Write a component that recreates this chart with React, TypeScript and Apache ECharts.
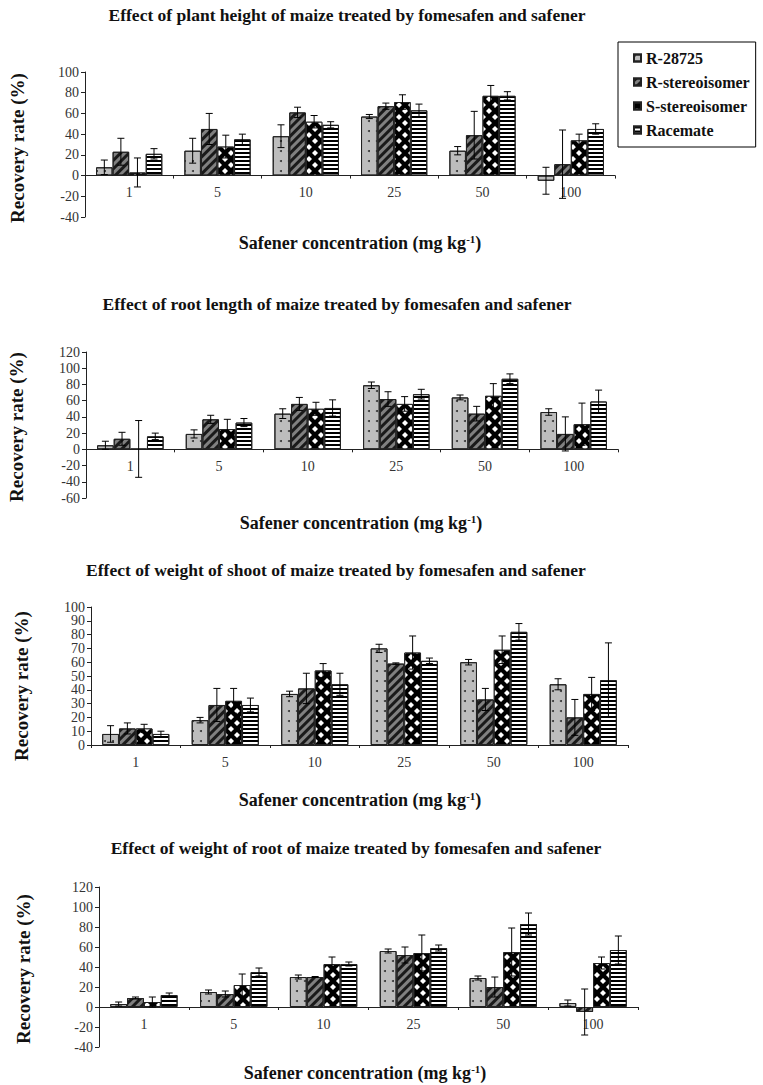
import React, { useEffect, useRef } from 'react';
import * as echarts from 'echarts';

const categories = ['1', '5', '10', '25', '50', '100'];
const seriesNames = ['R-28725', 'R-stereoisomer', 'S-stereoisomer', 'Racemate'];

// Y tick labels per panel (bottom to top)
const yTicks1 = ['-40', '-20', '0', '20', '40', '60', '80', '100'];
const yTicks2 = ['-60', '-40', '-20', '0', '20', '40', '60', '80', '100', '120'];
const yTicks3 = ['0', '10', '20', '30', '40', '50', '60', '70', '80', '90', '100'];
const yTicks4 = ['-40', '-20', '0', '20', '40', '60', '80', '100', '120'];

// Panel 1: plant height
const heightR28725 = [8, 24, 38, 57, 24, -5];
const heightR28725Err = [7, 12, 11, 2, 4, 13];
const heightRStereo = [23, 45, 61, 67, 39, 11];
const heightRStereoErr = [13, 15, 5, 3, 23, 33];
const heightSStereo = [3, 28, 52, 71, 77, 34];
const heightSStereoErr = [14, 11, 6, 7, 10, 6];
const heightRacemate = [21, 35, 49, 63, 77, 45];
const heightRacemateErr = [5, 5, 3, 6, 4, 5];

// Panel 2: root length
const rootLenR28725 = [5, 19, 44, 79, 64, 46];
const rootLenR28725Err = [5, 5, 6, 4, 3, 4];
const rootLenRStereo = [13, 37, 56, 62, 44, 19];
const rootLenRStereoErr = [8, 5, 8, 9, 9, 21];
const rootLenSStereo = [0.5, 25, 50, 56, 66, 31];
const rootLenSStereoErr = [35, 12, 8, 9, 15, 26];
const rootLenRacemate = [16, 33, 51, 68, 87, 59];
const rootLenRacemateErr = [4, 5, 10, 6, 6, 14];

// Panel 3: weight of shoot
const shootR28725 = [8, 18, 37, 70, 60, 44];
const shootR28725Err = [6, 2, 2, 3, 2, 4];
const shootRStereo = [12, 29, 41, 59, 33, 20];
const shootRStereoErr = [4, 12, 11, 0.5, 8, 13];
const shootSStereo = [12, 32, 54, 67, 69, 37];
const shootSStereoErr = [3, 9, 5, 12, 10, 12];
const shootRacemate = [8, 29, 44, 61, 82, 47];
const shootRacemateErr = [2, 5, 8, 2, 6, 27];

// Panel 4: weight of root
const rootWR28725 = [3, 15, 30, 56, 29, 4];
const rootWR28725Err = [2, 2, 2, 2, 2, 3];
const rootWRStereo = [9, 13, 30, 52, 20, -5];
const rootWRStereoErr = [1, 3, 0.5, 8, 10, 23];
const rootWSStereo = [5, 22, 43, 54, 55, 44];
const rootWSStereoErr = [5, 11, 7, 18, 24, 6];
const rootWRacemate = [12, 35, 43, 59, 83, 57];
const rootWRacemateErr = [2, 4, 2, 3, 11, 14];

const titles = [
  'Effect of plant height of maize treated by fomesafen and safener',
  'Effect of root length of maize treated by fomesafen and safener',
  'Effect of weight of shoot of maize treated by fomesafen and safener',
  'Effect of weight of root of maize treated by fomesafen and safener',
];
const yMins = [-40, -60, 0, -40];
const yMaxs = [100, 120, 100, 120];
const yIntervals = [20, 20, 10, 20];
const yTickLabels = [yTicks1, yTicks2, yTicks3, yTicks4];

const FONT = "'Liberation Serif', 'Times New Roman', serif";

const panels = [
  { vals: [heightR28725, heightRStereo, heightSStereo, heightRacemate], errs: [heightR28725Err, heightRStereoErr, heightSStereoErr, heightRacemateErr] },
  { vals: [rootLenR28725, rootLenRStereo, rootLenSStereo, rootLenRacemate], errs: [rootLenR28725Err, rootLenRStereoErr, rootLenSStereoErr, rootLenRacemateErr] },
  { vals: [shootR28725, shootRStereo, shootSStereo, shootRacemate], errs: [shootR28725Err, shootRStereoErr, shootSStereoErr, shootRacemateErr] },
  { vals: [rootWR28725, rootWRStereo, rootWSStereo, rootWRacemate], errs: [rootWR28725Err, rootWRStereoErr, rootWSStereoErr, rootWRacemateErr] },
];

const grids = [
  { left: 85, top: 72, width: 530, height: 145 },
  { left: 86, top: 352, width: 532, height: 146 },
  { left: 91, top: 607, width: 537, height: 138 },
  { left: 99, top: 887, width: 539, height: 160 },
];
const titlePos = [[347, 15], [337, 304], [336, 570], [356, 848]];
const titleSizes = [17.5, 17.5, 17.5, 17.5];
const xNamePos = [[360, 243], [361, 523], [360, 800], [365, 1073]];
const yNamePos = [[17, 148], [16, 427], [21, 686], [23, 969]];

const barStyles: any[] = [
  {
    color: '#bdbdbd', borderColor: '#222', borderWidth: 1,
    decal: { symbol: 'circle', symbolSize: 1, color: '#333', dashArrayX: [1.4, 6], dashArrayY: [1.4, 8] },
  },
  {
    color: '#808080', borderColor: '#222', borderWidth: 1,
    decal: { symbol: 'rect', symbolSize: 1, color: '#1a1a1a', dashArrayX: [1, 0], dashArrayY: [3, 3], rotation: -Math.PI / 4 },
  },
  {
    color: '#000000', borderColor: '#222', borderWidth: 1,
    decal: { symbol: 'diamond', symbolSize: 1, color: '#ffffff', dashArrayX: [[6, 6], [0, 6, 6, 0]], dashArrayY: [6, 0] },
  },
  {
    color: '#ffffff', borderColor: '#222', borderWidth: 1,
    decal: { symbol: 'rect', symbolSize: 1, color: '#000000', dashArrayX: [1, 0], dashArrayY: [2, 2] },
  },
];

const makeErr = (s: number) => (params: any, api: any) => {
  const ci = api.value(0);
  const v = api.value(1);
  const e = api.value(2);
  const c = api.coord([ci, v]);
  const band = api.size([1, 0])[0];
  const bw = (band * 0.75) / 4;
  const x = c[0] - band * 0.375 + (s + 0.5) * bw;
  const yt = api.coord([ci, v + e])[1];
  const yb = api.coord([ci, v - e])[1];
  const cw = 3.5;
  const st = { stroke: '#000', lineWidth: 1 };
  return {
    type: 'group',
    children: [
      { type: 'line', shape: { x1: x, y1: yt, x2: x, y2: yb }, style: st },
      { type: 'line', shape: { x1: x - cw, y1: yt, x2: x + cw, y2: yt }, style: st },
      { type: 'line', shape: { x1: x - cw, y1: yb, x2: x + cw, y2: yb }, style: st },
    ],
  };
};

export default function App() {
  const ref = useRef<HTMLDivElement>(null);
  useEffect(() => {
    document.body.style.margin = '0';
    const chart = echarts.init(ref.current!, null, { renderer: 'svg' });
    const series: any[] = [];
    panels.forEach((p, pi) => {
      p.vals.forEach((vals, s) => {
        series.push({
          name: seriesNames[s],
          type: 'bar',
          xAxisIndex: pi,
          yAxisIndex: pi,
          barGap: '0%',
          barCategoryGap: '25%',
          itemStyle: barStyles[s],
          data: vals,
        });
      });
      p.vals.forEach((vals, s) => {
        series.push({
          name: seriesNames[s] + ' error',
          type: 'custom',
          xAxisIndex: pi,
          yAxisIndex: pi,
          z: 10,
          renderItem: makeErr(s),
          data: vals.map((v, i) => [i, v, p.errs[s][i]]),
        });
      });
    });

    const graphics: any[] = [];
    titles.forEach((t, i) => {
      graphics.push({
        type: 'text', x: titlePos[i][0], y: titlePos[i][1],
        style: { text: t, align: 'center', verticalAlign: 'middle', fontFamily: FONT, fontWeight: 'bold', fontSize: titleSizes[i], fill: '#111' },
      });
      graphics.push({
        type: 'text', x: xNamePos[i][0], y: xNamePos[i][1],
        style: {
          text: '{a|Safener concentration (mg kg}{s|-1}{a|)}',
          align: 'center', verticalAlign: 'middle',
          rich: {
            a: { fontFamily: FONT, fontWeight: 'bold', fontSize: 18, fill: '#111', lineHeight: 20 },
            s: { fontFamily: FONT, fontWeight: 'bold', fontSize: 11, fill: '#111', lineHeight: 20, verticalAlign: 'top', padding: [0, 0, 9, 0] },
          },
        },
      });
      graphics.push({
        type: 'text', x: yNamePos[i][0], y: yNamePos[i][1], rotation: Math.PI / 2,
        style: { text: 'Recovery rate (%)', align: 'center', verticalAlign: 'middle', fontFamily: FONT, fontWeight: 'bold', fontSize: 19, fill: '#111' },
      });
    });

    const valueAxes = grids.map((g, i) => ({
      type: 'value',
      gridIndex: i,
      position: 'left',
      min: yMins[i],
      max: yMaxs[i],
      interval: yIntervals[i],
      axisLine: { show: true, lineStyle: { color: '#222', width: 1 } },
      axisTick: { show: true, length: 4, lineStyle: { color: '#222' } },
      axisLabel: { show: false },
      splitLine: { show: false },
    }));
    const labelAxes = grids.map((g, i) => ({
      type: 'category',
      gridIndex: i,
      position: 'left',
      boundaryGap: false,
      data: yTickLabels[i],
      axisLine: { show: false },
      axisTick: { show: false },
      axisLabel: { show: true, interval: 0, fontFamily: FONT, fontSize: 14, color: '#333', margin: 6 },
      splitLine: { show: false },
    }));

    chart.setOption({
      animation: false,
      backgroundColor: '#fff',
      legend: {
        data: seriesNames,
        orient: 'vertical',
        left: 618,
        top: 42,
        padding: [8, 6, 9, 15],
        itemGap: 8,
        itemWidth: 7,
        itemHeight: 7,
        icon: 'rect',
        borderColor: '#000',
        borderWidth: 1,
        backgroundColor: '#fff',
        selectedMode: false,
        textStyle: { fontFamily: FONT, fontWeight: 'bold', fontSize: 16, color: '#111', lineHeight: 16 },
      },
      grid: grids.map((g) => ({ ...g, containLabel: false })),
      xAxis: grids.map((g, i) => ({
        type: 'category',
        gridIndex: i,
        position: 'bottom',
        data: categories,
        offset: -((0 - yMins[i]) / (yMaxs[i] - yMins[i])) * g.height,
        axisLine: { onZero: false, lineStyle: { color: '#222', width: 1 } },
        axisTick: { show: true, length: 3, lineStyle: { color: '#222' } },
        axisLabel: { fontFamily: FONT, fontSize: 14, color: '#333', margin: 10 },
        splitLine: { show: false },
      })),
      yAxis: [...valueAxes, ...labelAxes],
      series,
      graphic: graphics,
    });
    return () => chart.dispose();
  }, []);
  return <div ref={ref} style={{ width: 763, height: 1085 }} />;
}
